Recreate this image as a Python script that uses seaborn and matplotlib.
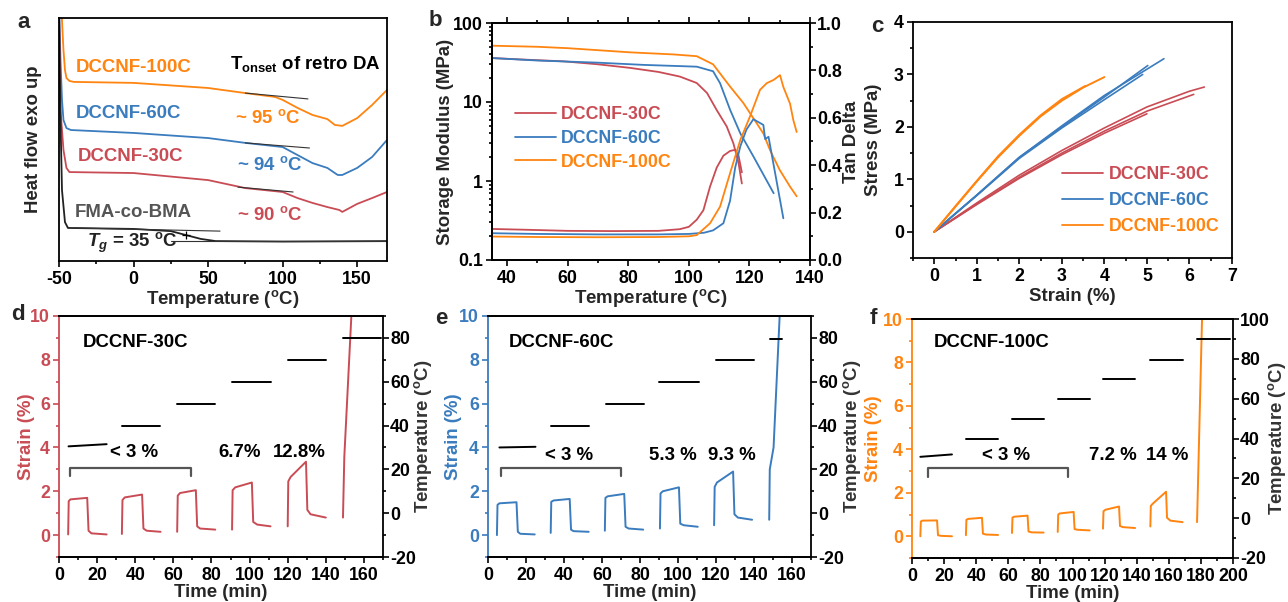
import numpy as np
import pandas as pd
import matplotlib
matplotlib.use("Agg")
import matplotlib.pyplot as plt
import seaborn as sns
from matplotlib.ticker import MultipleLocator, FixedLocator, FuncFormatter
from matplotlib.lines import Line2D

RED = "#C94C55"
BLUE = "#3A7CBE"
ORANGE = "#FF8410"
GRAY = "#555555"

# ---- a: DSC heat flow (arbitrary units) ----
dsc_100_T = [-48.5, -47, -46, -45, -43, -40, 0, 50, 75, 95, 100, 110, 120, 130, 135, 140, 150, 160, 170]
dsc_100_H = [10.5, 8.68, 7.86, 7.53, 7.41, 7.37, 7.33, 7.12, 6.91, 6.75, 6.63, 6.30, 6.01, 5.84, 5.60, 5.56, 5.88, 6.42, 7.04]
dsc_60_T = [-50, -49, -48, -47, -45, -42, 0, 50, 75, 100, 110, 120, 130, 135, 137, 140, 150, 160, 170]
dsc_60_H = [10.5, 8.27, 6.63, 5.80, 5.47, 5.39, 5.27, 5.06, 4.86, 4.69, 4.36, 4.03, 3.83, 3.62, 3.54, 3.54, 3.83, 4.28, 4.98]
dsc_30_T = [-50, -49, -47, -45, -43, 0, 50, 75, 100, 110, 120, 130, 138, 140, 150, 160, 170]
dsc_30_H = [10.5, 6.21, 4.57, 3.83, 3.66, 3.62, 3.33, 3.00, 2.84, 2.59, 2.39, 2.22, 2.10, 2.02, 2.35, 2.59, 2.84]
dsc_fma_T = [-50, -49, -48, -46, -44, 0, 25, 35, 45, 55, 100, 170]
dsc_fma_H = [10.5, 5.80, 2.92, 1.60, 1.36, 1.32, 1.23, 1.07, 0.91, 0.82, 0.80, 0.82]
tangent_T = [[75, 117], [75, 118], [70, 107], [-40, 58], [25, 170]]
tangent_H = [[6.91, 6.67], [4.86, 4.65], [3.04, 2.84], [1.36, 1.23], [0.82, 0.82]]

# ---- b: DMA ----
dma_30_T = [35, 45, 58.7, 70, 80.7, 90, 97, 102.6, 106, 109.2, 112.5, 114.7, 116.4, 117.5]
dma_30_E = [36, 34.5, 32.7, 30, 27, 24, 21, 17.4, 13, 7.9, 4.9, 3.0, 1.7, 0.93]
dma_30_tT = [35, 45, 60, 75, 90, 97, 100, 102.6, 104.8, 107, 109.2, 111.4, 113.6, 115.3, 116.4, 117.5]
dma_30_tan = [0.131, 0.128, 0.123, 0.122, 0.123, 0.13, 0.14, 0.17, 0.21, 0.31, 0.39, 0.44, 0.46, 0.465, 0.44, 0.37]
dma_60_T = [35, 50, 69.7, 85, 102.6, 108, 110.3, 113.6, 117, 121.3, 128]
dma_60_E = [36, 33.5, 31.5, 29.5, 28, 24.5, 17.3, 8, 4, 2.05, 0.7]
dma_60_tT = [35, 50, 70, 90, 100, 105, 108, 111.4, 113.6, 115.3, 117, 119, 121.3, 124.6, 125.2, 126.3, 131.2]
dma_60_tan = [0.113, 0.11, 0.108, 0.108, 0.11, 0.115, 0.125, 0.155, 0.25, 0.39, 0.48, 0.55, 0.594, 0.57, 0.51, 0.52, 0.176]
dma_100_T = [35, 50, 60, 80.7, 95, 102.6, 108, 113.6, 118, 124.6, 126.8, 130, 133.4, 135.6]
dma_100_E = [51.6, 50, 48, 42.5, 40, 38, 30, 15.7, 9.7, 4.0, 2.46, 1.38, 0.85, 0.64]
dma_100_tT = [35, 50, 70, 90, 100, 102.6, 107, 110.3, 113.6, 117, 120.2, 123.5, 125.7, 128, 130.1, 131.2, 133.4, 134.5, 135.6]
dma_100_tan = [0.099, 0.097, 0.096, 0.097, 0.1, 0.105, 0.155, 0.225, 0.366, 0.507, 0.606, 0.718, 0.746, 0.76, 0.78, 0.73, 0.66, 0.59, 0.54]

# ---- c: stress-strain (replicates) ----
ss_30 = [([0, 1, 2, 3, 4, 5, 6, 6.35], [0, 0.55, 1.08, 1.55, 1.98, 2.38, 2.68, 2.76]),
         ([0, 1, 2, 3, 4, 5, 6.1], [0, 0.53, 1.04, 1.50, 1.92, 2.30, 2.62]),
         ([0, 1, 2, 3, 4, 5], [0, 0.52, 1.02, 1.47, 1.88, 2.25])]
ss_60 = [([0, 1, 2, 3, 4, 5, 5.4], [0, 0.7, 1.42, 2.02, 2.6, 3.1, 3.3]),
         ([0, 1, 2, 3, 4, 5.02], [0, 0.7, 1.42, 2.0, 2.57, 3.17]),
         ([0, 1, 2, 3, 4, 4.9], [0, 0.69, 1.4, 1.98, 2.52, 3.0])]
ss_100 = [([0, 0.5, 1, 1.5, 2, 2.5, 3, 3.5, 4], [0, 0.48, 0.96, 1.42, 1.83, 2.2, 2.5, 2.75, 2.95]),
          ([0, 0.5, 1, 1.5, 2, 2.5, 3, 3.55], [0, 0.49, 0.97, 1.44, 1.85, 2.22, 2.53, 2.78])]

# ---- d-f: creep cycles (time min, strain %) and temperature steps ----
creep_30 = [([4.8, 5.1, 6, 14.8, 15.5, 17, 25], [0.03, 1.55, 1.63, 1.7, 0.2, 0.08, 0.03]),
            ([33, 33.3, 34.5, 43.6, 44.3, 46, 53.3], [0.05, 1.6, 1.72, 1.85, 0.3, 0.2, 0.15]),
            ([62, 62.3, 63.5, 71.8, 72.5, 74, 82], [0.15, 1.8, 1.92, 2.05, 0.4, 0.3, 0.25]),
            ([90.8, 91.1, 92.5, 101.2, 101.9, 104, 111], [0.25, 2.05, 2.18, 2.4, 0.6, 0.48, 0.4]),
            ([120, 120.3, 121.5, 129.6, 130.3, 132, 140], [0.4, 2.45, 2.65, 3.35, 1.15, 0.95, 0.8]),
            ([149, 149.7, 153.4, 153.8], [0.8, 3.57, 10, 10.6])]
temp_30 = [([5, 25], [30.5, 31.5]), ([33, 53], [40, 40]), ([62, 82], [50, 50]),
           ([91, 111], [60, 60]), ([120, 140], [70, 70]), ([149, 169], [80, 80])]
creep_60 = [([4.7, 5.0, 6, 15, 15.7, 17, 24.6], [0.0, 1.38, 1.45, 1.5, 0.15, 0.06, 0.03]),
            ([33, 33.3, 34.5, 43, 43.7, 45, 53], [0.1, 1.52, 1.58, 1.65, 0.25, 0.18, 0.15]),
            ([61.5, 61.8, 63, 71.7, 72.4, 74, 81.7], [0.2, 1.7, 1.77, 1.88, 0.38, 0.3, 0.25]),
            ([90.5, 90.8, 92, 100.5, 101.2, 103, 110.4], [0.3, 1.9, 2.0, 2.18, 0.52, 0.45, 0.38]),
            ([119, 119.3, 120.5, 129, 129.7, 131.5, 139], [0.45, 2.2, 2.4, 2.9, 0.95, 0.8, 0.7]),
            ([148, 148.3, 150.3, 153.5, 154], [0.7, 3.0, 4.0, 10, 10.6])]
temp_60 = [([6, 25], [30, 30.3]), ([33, 53], [40, 40]), ([62, 82], [50, 50]),
           ([90, 111], [60, 60]), ([120, 140], [70, 70]), ([148.5, 154.6], [79.5, 79.5])]
creep_100 = [([5.2, 5.5, 6.5, 15.6, 16.2, 18, 24.9], [0.0, 0.68, 0.72, 0.73, 0.05, 0.02, 0.0]),
             ([33.6, 33.9, 35, 43.6, 44.2, 46, 53.6], [0.05, 0.76, 0.8, 0.85, 0.12, 0.08, 0.06]),
             ([62.3, 62.6, 63.6, 72, 72.6, 74.5, 82], [0.15, 0.86, 0.9, 0.95, 0.22, 0.18, 0.17]),
             ([90.8, 91.1, 92, 100.7, 101.3, 103, 110.7], [0.2, 1.0, 1.05, 1.12, 0.33, 0.3, 0.27]),
             ([119, 119.3, 120.5, 129, 129.6, 131.5, 139], [0.35, 1.15, 1.22, 1.37, 0.47, 0.42, 0.38]),
             ([148.5, 148.8, 150, 158.3, 158.9, 161, 168.6], [0.45, 1.4, 1.5, 2.05, 0.85, 0.72, 0.65]),
             ([177.6, 180.7, 181], [0.65, 10, 10.4])]
temp_100 = [([5.2, 24.9], [30.8, 32]), ([33.6, 53.6], [39.8, 39.8]), ([62.3, 82], [49.9, 49.9]),
            ([90.8, 110.7], [59.8, 59.8]), ([119, 139], [69.7, 69.7]), ([148.5, 168.6], [79.6, 79.6]),
            ([177.6, 198], [89.8, 89.8])]
bracket_30 = ([5.6, 5.6, 69, 69], [2.7, 3.04, 3.04, 2.7])
bracket_60 = ([6.7, 6.7, 70, 70], [2.7, 3.05, 3.05, 2.7])
bracket_100 = ([10, 10, 97, 97], [2.72, 3.14, 3.14, 2.72])

# ---- style ----
sns.set_style("ticks")
plt.rcParams["font.family"] = ["Liberation Sans", "DejaVu Sans"]
plt.rcParams["font.weight"] = "bold"
plt.rcParams["axes.labelweight"] = "bold"
plt.rcParams["axes.unicode_minus"] = False
plt.rcParams["mathtext.fontset"] = "custom"
plt.rcParams["mathtext.rm"] = "Liberation Sans:bold"
plt.rcParams["mathtext.it"] = "Liberation Sans:bold:italic"
plt.rcParams["mathtext.bf"] = "Liberation Sans:bold"
plt.rcParams["axes.linewidth"] = 1.3
plt.rcParams["axes.edgecolor"] = "black"

FS = 12.8
LFS = 13.4
DEG = r"($^{\mathrm{o}}$C)"

W, H = 1288, 602
fig = plt.figure(figsize=(W / 100, H / 100), dpi=100)


def box(l, t, r, b):
    return fig.add_axes([l / W, 1 - b / H, (r - l) / W, (b - t) / H])


def style(ax):
    ax.tick_params(which="both", direction="out", labelsize=FS, width=1.2, colors="black")
    ax.tick_params(which="major", length=4)
    ax.tick_params(which="minor", length=2.5)
    ax.tick_params(axis="y", which="both", right=False, pad=2.5)


def style_right(tw):
    tw.tick_params(which="both", direction="out", labelsize=FS, width=1.2, colors="black",
                   left=False, right=True, pad=1.2)
    tw.tick_params(which="major", length=4)
    tw.tick_params(which="minor", length=2.5)


def place_ylabel(ax, px, box_lr):
    # centre the y label at figure pixel column px
    l, r = box_lr
    ax.yaxis.set_label_coords((px - l) / (r - l), 0.5)
    ax.yaxis.label.set_va("center")


def draw(ax, xs, ys, color, lw=1.3, **kw):
    df = pd.DataFrame({"x": xs, "y": ys})
    sns.lineplot(data=df, x="x", y="y", ax=ax, color=color, lw=lw, sort=False,
                 estimator=None, legend=False, **kw)


# ---------------- a ----------------
ax = box(59, 18, 387, 261)
for T, Hf, c in [(dsc_100_T, dsc_100_H, ORANGE), (dsc_60_T, dsc_60_H, BLUE),
                 (dsc_30_T, dsc_30_H, RED), (dsc_fma_T, dsc_fma_H, "#222222")]:
    draw(ax, T, Hf, c)
for T, Hf in zip(tangent_T, tangent_H):
    draw(ax, T, Hf, "#333333", lw=0.8)
ax.plot([35], [1.07], marker="+", color="black", ms=6, mew=0.9)
ax.set_xlim(-50, 170)
ax.set_ylim(0, 10)
ax.set_yticks([])
ax.xaxis.set_major_locator(MultipleLocator(50))
ax.xaxis.set_minor_locator(MultipleLocator(25))
style(ax)
ax.set_xlabel("Temperature " + DEG, fontsize=LFS, labelpad=0)
ax.set_ylabel("Heat flow exo up", fontsize=LFS)
place_ylabel(ax, 33, (59, 387))
ax.text(-38.6, 7.98, "DCCNF-100C", color=ORANGE, fontsize=LFS, va="center")
ax.text(64.7, 8.1, r"T$_{\mathrm{onset}}$ of retro DA", color="black", fontsize=LFS, va="center")
ax.text(-38.6, 6.09, "DCCNF-60C", color=BLUE, fontsize=LFS, va="center")
ax.text(68, 5.88, r"~ 95 $^{\mathrm{o}}$C", color=ORANGE, fontsize=LFS, va="center")
ax.text(-37.3, 4.28, "DCCNF-30C", color=RED, fontsize=LFS, va="center")
ax.text(69.4, 3.95, r"~ 94 $^{\mathrm{o}}$C", color=BLUE, fontsize=LFS, va="center")
ax.text(-39.3, 1.98, "FMA-co-BMA", color=GRAY, fontsize=LFS, va="center")
ax.text(69.4, 1.89, r"~ 90 $^{\mathrm{o}}$C", color=RED, fontsize=LFS, va="center")
ax.text(-31.2, 0.74, r"$T_g$ = 35 $^{\mathrm{o}}$C", color="#222222", fontsize=LFS, va="center")

# ---------------- b ----------------
ax = box(492, 23, 810, 260)
tw = ax.twinx()
draw(ax, dma_30_T, dma_30_E, RED)
draw(ax, dma_60_T, dma_60_E, BLUE)
draw(ax, dma_100_T, dma_100_E, ORANGE)
draw(tw, dma_30_tT, dma_30_tan, RED)
draw(tw, dma_60_tT, dma_60_tan, BLUE)
draw(tw, dma_100_tT, dma_100_tan, ORANGE)
ax.set_yscale("log")
ax.set_ylim(0.1, 100)
ax.set_xlim(35, 140)
tw.set_ylim(0, 1.0)
ax.yaxis.set_major_locator(FixedLocator([0.1, 1, 10, 100]))
ax.yaxis.set_major_formatter(FuncFormatter(lambda v, p: "%g" % v))
ax.xaxis.set_major_locator(MultipleLocator(20))
ax.xaxis.set_minor_locator(MultipleLocator(10))
tw.yaxis.set_major_locator(MultipleLocator(0.2))
tw.yaxis.set_minor_locator(MultipleLocator(0.1))
tw.yaxis.set_major_formatter(FuncFormatter(lambda v, p: "%.1f" % v))
style(ax)
style_right(tw)
ax.tick_params(axis="x", which="both", top=True)
ax.set_xlabel("Temperature " + DEG, fontsize=LFS, labelpad=0)
ax.set_ylabel("Storage Modulus (MPa)", fontsize=LFS)
place_ylabel(ax, 446, (492, 810))
tw.set_ylabel("Tan Delta", fontsize=LFS)
place_ylabel(tw, 852, (492, 810))
handles = [Line2D([], [], color=c, lw=1.3) for c in (RED, BLUE, ORANGE)]
ax.legend(handles, ["DCCNF-30C", "DCCNF-60C", "DCCNF-100C"], loc="upper left",
          bbox_to_anchor=(515 / W, 1 - 106 / H), bbox_transform=fig.transFigure,
          frameon=False, fontsize=12.8, handlelength=2.3, handletextpad=0.3,
          labelspacing=0.38, borderpad=0, borderaxespad=0, labelcolor="linecolor")

# ---------------- c ----------------
ax = box(913, 22, 1232, 258)
for xs, ys in ss_30:
    draw(ax, xs, ys, RED, lw=1.2)
for xs, ys in ss_60:
    draw(ax, xs, ys, BLUE, lw=1.2)
for xs, ys in ss_100:
    draw(ax, xs, ys, ORANGE, lw=1.4)
ax.set_xlim(-0.5, 7)
ax.set_ylim(-0.5, 4)
ax.xaxis.set_major_locator(MultipleLocator(1))
ax.xaxis.set_minor_locator(MultipleLocator(0.5))
ax.yaxis.set_major_locator(MultipleLocator(1))
ax.yaxis.set_minor_locator(MultipleLocator(0.5))
style(ax)
ax.set_xlabel("Strain (%)", fontsize=LFS, labelpad=2)
ax.set_ylabel("Stress (MPa)", fontsize=LFS)
place_ylabel(ax, 874, (913, 1232))
ax.legend(handles, ["DCCNF-30C", "DCCNF-60C", "DCCNF-100C"], loc="upper left",
          bbox_to_anchor=(1062 / W, 1 - 166 / H), bbox_transform=fig.transFigure,
          frameon=False, fontsize=12.8, handlelength=2.3, handletextpad=0.35,
          labelspacing=0.5, borderpad=0, borderaxespad=0, labelcolor="linecolor")

# ---------------- d-f ----------------
panels = [
    ((59, 316, 383, 557), creep_30, temp_30, bracket_30, RED, 170, (-20, 90), 26, 423,
     [(12.6, 8.77, "DCCNF-30C"), (26.8, 3.75, "< 3 %"), (83.4, 3.75, "6.7%"), (112.3, 3.75, "12.8%")]),
    ((488, 316, 811, 557), creep_60, temp_60, bracket_60, BLUE, 170, (-20, 90), 453, 852,
     [(11, 8.77, "DCCNF-60C"), (30, 3.61, "< 3 %"), (84.7, 3.61, "5.3 %"), (115.8, 3.61, "9.3 %")]),
    ((912, 319, 1233, 558), creep_100, temp_100, bracket_100, ORANGE, 200, (-20, 100), 874, 1277,
     [(13.7, 8.9, "DCCNF-100C"), (43.6, 3.74, "< 3 %"), (110, 3.74, "7.2 %"), (145.8, 3.74, "14 %")]),
]
for (l, t, r, b), creep, temp, brk, col, xmax, tlim, lx, rx, texts in panels:
    ax = box(l, t, r, b)
    tw = ax.twinx()
    for xs, ys in creep:
        draw(ax, xs, ys, col, lw=1.4)
    for xs, ys in temp:
        draw(tw, xs, ys, "black", lw=1.4)
    draw(ax, brk[0], brk[1], GRAY, lw=1.6)
    ax.set_xlim(0, xmax)
    ax.set_ylim(-1, 10)
    tw.set_ylim(*tlim)
    ax.xaxis.set_major_locator(MultipleLocator(20))
    ax.xaxis.set_minor_locator(MultipleLocator(10))
    ax.yaxis.set_major_locator(MultipleLocator(2))
    ax.yaxis.set_minor_locator(MultipleLocator(1))
    tw.yaxis.set_major_locator(MultipleLocator(20))
    tw.yaxis.set_minor_locator(MultipleLocator(10))
    style(ax)
    style_right(tw)
    ax.tick_params(axis="y", which="both", colors=col)
    ax.spines["left"].set_color(col)
    tw.spines["left"].set_visible(False)
    ax.spines["right"].set_visible(False)
    ax.set_xlabel("Time (min)", fontsize=LFS, labelpad=0)
    ax.set_ylabel("Strain (%)", fontsize=LFS, color=col)
    place_ylabel(ax, lx, (l, r))
    tw.set_ylabel("Temperature " + DEG, fontsize=LFS, color="#333333")
    place_ylabel(tw, rx, (l, r))
    for x, y, s in texts:
        ax.text(x, y, s, fontsize=LFS, color="black", va="center")

for x, y, s in [(24, 22, "a"), (435, 20, "b"), (877, 26, "c"),
                (18, 314, "d"), (441, 318, "e"), (873, 318, "f")]:
    fig.text(x / W, 1 - y / H, s, fontsize=16, ha="center", va="center")

fig.savefig("out.png", dpi=100)
